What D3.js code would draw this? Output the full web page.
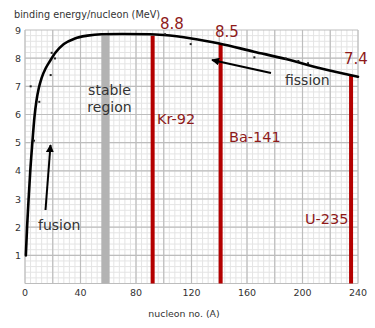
<!DOCTYPE html>
<html>
<head>
<meta charset="utf-8">
<script src="https://cdn.jsdelivr.net/npm/d3@7"></script>
<style>
  html, body { margin: 0; padding: 0; background: #fff; }
  svg { display: block; font-family: "DejaVu Sans", Verdana, sans-serif; }
</style>
</head>
<body>
<svg id="chart" width="375" height="328"></svg>
<script>
// Binding energy per nucleon curve (A, MeV)
const curveA  = [0.6, 1.5, 2.6, 3.8, 5.3, 6.8, 8.3, 10, 12, 15, 18, 22, 28, 36, 45, 55, 70, 90, 100, 120, 140, 165, 188, 212, 240];
const curveBE = [1.0, 2.0, 3.0, 4.0, 5.0, 5.9, 6.5, 6.95, 7.3, 7.65, 7.9, 8.2, 8.5, 8.7, 8.8, 8.85, 8.86, 8.85, 8.82, 8.7, 8.52, 8.23, 7.97, 7.65, 7.34];

// Measured nuclide points
const pointA  = [4.1, 6.5, 10.3, 18.5, 19.2, 21.6, 101, 119.4, 165.3, 187.9, 197, 204];
const pointBE = [7.0, 5.07, 6.45, 7.4, 8.19, 7.99, 8.85, 8.5, 8.03, 7.99, 7.9, 7.82];

// Fission fragments and fuel
const nuclideNames = ["Kr-92", "Ba-141", "U-235"];
const nuclideA     = [92, 141, 235];
const nuclideBE    = [8.8, 8.5, 7.4];

// Stable region band
const stableRange = [55, 61];
const stableTop = 8.8;

// Axis ticks
const xTicks = [0, 40, 80, 120, 160, 200, 240];
const yTicks = [1, 2, 3, 4, 5, 6, 7, 8, 9];

const svg = d3.select("#chart");
const x = d3.scaleLinear().domain([0, 240]).range([25, 358]);
const y = d3.scaleLinear().domain([0, 9]).range([283.5, 30]);

// Graph-paper grid
const grid = svg.append("g");
grid.selectAll("line.minx").data(d3.range(0, 241, 4)).join("line")
  .attr("x1", d => x(d)).attr("x2", d => x(d))
  .attr("y1", y(0)).attr("y2", y(9))
  .attr("stroke", "#e4e4e4").attr("stroke-width", 1);
grid.selectAll("line.miny").data(d3.range(0, 45).map(i => i * 0.2)).join("line")
  .attr("x1", x(0)).attr("x2", x(240))
  .attr("y1", d => y(d)).attr("y2", d => y(d))
  .attr("stroke", "#e4e4e4").attr("stroke-width", 1);
grid.selectAll("line.majx").data(d3.range(0, 241, 20)).join("line")
  .attr("x1", d => x(d)).attr("x2", d => x(d))
  .attr("y1", y(0)).attr("y2", y(9))
  .attr("stroke", "#bdbdbd").attr("stroke-width", 1.2);
grid.selectAll("line.majy").data(d3.range(0, 10)).join("line")
  .attr("x1", x(0)).attr("x2", x(240))
  .attr("y1", d => y(d)).attr("y2", d => y(d))
  .attr("stroke", "#bdbdbd").attr("stroke-width", 1.2);

// Stable region
svg.append("rect")
  .attr("x", x(stableRange[0])).attr("width", x(stableRange[1]) - x(stableRange[0]))
  .attr("y", y(stableTop)).attr("height", y(0) - y(stableTop))
  .attr("fill", "#b3b3b3");

// Fragment / fuel bars
svg.selectAll("line.nuc").data(nuclideA).join("line")
  .attr("x1", d => x(d)).attr("x2", d => x(d))
  .attr("y1", y(0)).attr("y2", (d, i) => y(nuclideBE[i]))
  .attr("stroke", "#b40000").attr("stroke-width", 4);

// Binding energy curve
const line = d3.line().x(d => x(d[0])).y(d => y(d[1])).curve(d3.curveMonotoneX);
svg.append("path")
  .datum(curveA.map((a, i) => [a, curveBE[i]]))
  .attr("d", line)
  .attr("fill", "none").attr("stroke", "#000").attr("stroke-width", 2.6)
  .attr("stroke-linecap", "round");

// Points
svg.selectAll("rect.pt").data(pointA).join("rect")
  .attr("x", d => x(d) - 1).attr("y", (d, i) => y(pointBE[i]) - 1)
  .attr("width", 2).attr("height", 2).attr("fill", "#222");

// Axis tick labels
svg.selectAll("text.xt").data(xTicks).join("text")
  .attr("x", d => x(d)).attr("y", 296)
  .attr("text-anchor", "middle").attr("font-size", 9.5).attr("fill", "#333")
  .text(d => d);
svg.selectAll("text.yt").data(yTicks).join("text")
  .attr("x", 21).attr("y", d => y(d) + 3.5)
  .attr("text-anchor", "end").attr("font-size", 9.5).attr("fill", "#333")
  .text(d => d);

svg.append("text").attr("x", 14).attr("y", 18)
  .attr("font-size", 9.7).attr("fill", "#333")
  .text("binding energy/nucleon (MeV)");
svg.append("text").attr("x", 184).attr("y", 317)
  .attr("text-anchor", "middle").attr("font-size", 9.4).attr("fill", "#333")
  .text("nucleon no. (A)");

// Value labels above bars
const valPos = [[172, 29], [227, 37], [356, 64]];
svg.selectAll("text.val").data(nuclideBE).join("text")
  .attr("x", (d, i) => valPos[i][0]).attr("y", (d, i) => valPos[i][1])
  .attr("text-anchor", "middle").attr("font-size", 15).attr("fill", "#8e1a1a")
  .text(d => d3.format(".1f")(d));

// Nuclide names
const namePos = [[157, 124], [229, 142], [305, 224]];
svg.selectAll("text.nm").data(nuclideNames).join("text")
  .attr("x", (d, i) => namePos[i][0]).attr("y", (d, i) => namePos[i][1])
  .attr("font-size", 14.5).attr("fill", "#8e1a1a")
  .text(d => d);

// Annotations
const note = svg.append("g").attr("fill", "#333").attr("font-size", 14);
note.append("text").attr("x", 109.5).attr("y", 95).attr("text-anchor", "middle").text("stable");
note.append("text").attr("x", 109.5).attr("y", 112).attr("text-anchor", "middle").text("region");
note.append("text").attr("x", 38).attr("y", 230).text("fusion");
note.append("text").attr("x", 285).attr("y", 85).text("fission");

// Arrows
svg.append("defs").append("marker")
  .attr("id", "head").attr("viewBox", "0 0 10 10")
  .attr("refX", 9).attr("refY", 5)
  .attr("markerWidth", 4).attr("markerHeight", 4)
  .attr("markerUnits", "strokeWidth").attr("orient", "auto")
  .append("path").attr("d", "M0,0L10,5L0,10z").attr("fill", "#000");
svg.append("line").attr("x1", 45.5).attr("y1", 210).attr("x2", 50.5).attr("y2", 145)
  .attr("stroke", "#000").attr("stroke-width", 2).attr("marker-end", "url(#head)");
svg.append("line").attr("x1", 271).attr("y1", 73).attr("x2", 212).attr("y2", 60)
  .attr("stroke", "#000").attr("stroke-width", 2).attr("marker-end", "url(#head)");
</script>
</body>
</html>
